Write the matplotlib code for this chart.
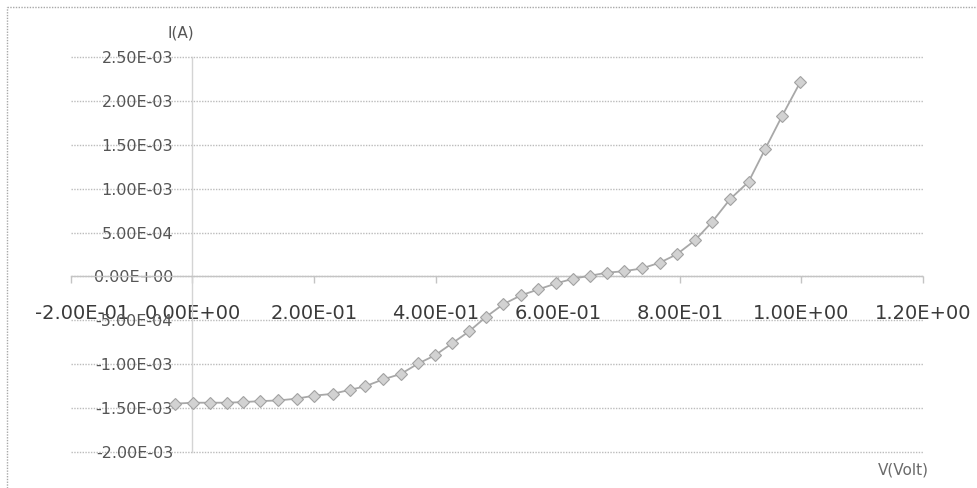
import matplotlib
matplotlib.use("Agg")
import matplotlib.pyplot as plt
from matplotlib.lines import Line2D
from matplotlib.transforms import ScaledTranslation

# Measured I-V characteristic
voltage = [-0.029, 0.001, 0.029, 0.056, 0.083, 0.111, 0.141, 0.171, 0.200,
           0.230, 0.258, 0.283, 0.313, 0.342, 0.371, 0.398, 0.426, 0.454,
           0.482, 0.510, 0.539, 0.568, 0.597, 0.625, 0.653, 0.680, 0.709,
           0.738, 0.767, 0.795, 0.825, 0.853, 0.883, 0.913, 0.940, 0.968,
           0.998]
current = [-1.452e-3, -1.441e-3, -1.441e-3, -1.441e-3, -1.434e-3, -1.423e-3,
           -1.415e-3, -1.395e-3, -1.360e-3, -1.340e-3, -1.295e-3, -1.255e-3,
           -1.175e-3, -1.113e-3, -0.993e-3, -0.901e-3, -0.765e-3, -0.628e-3,
           -0.462e-3, -0.319e-3, -0.217e-3, -0.148e-3, -0.080e-3, -0.026e-3,
           0.008e-3, 0.042e-3, 0.060e-3, 0.091e-3, 0.156e-3, 0.251e-3,
           0.411e-3, 0.620e-3, 0.884e-3, 1.078e-3, 1.449e-3, 1.829e-3,
           2.217e-3]

x_ticks = [-0.2, 0.0, 0.2, 0.4, 0.6, 0.8, 1.0, 1.2]
x_tick_labels = ["-2.00E-01", "0.00E+00", "2.00E-01", "4.00E-01",
                 "6.00E-01", "8.00E-01", "1.00E+00", "1.20E+00"]
y_ticks = [-2.0e-3, -1.5e-3, -1.0e-3, -0.5e-3, 0.0, 0.5e-3, 1.0e-3,
           1.5e-3, 2.0e-3, 2.5e-3]
y_tick_labels = ["-2.00E-03", "-1.50E-03", "-1.00E-03", "-5.00E-04",
                 "0.00E+00", "5.00E-04", "1.00E-03", "1.50E-03",
                 "2.00E-03", "2.50E-03"]

plt.rcParams["font.family"] = ["DejaVu Sans"]

W, H = 978, 488
fig = plt.figure(figsize=(W / 100, H / 100), dpi=100)
fig.patch.set_facecolor("white")
ax = fig.add_axes([70.7 / W, 1 - 451.7 / H, (923.3 - 70.7) / W, (451.7 - 57.3) / H])
ax.set_facecolor("none")

ax.set_xlim(-0.2, 1.2)
ax.set_ylim(-2.0e-3, 2.5e-3)

ax.plot(voltage, current, color="#a8a8a8", lw=1.3, marker="D", ms=6.0,
        mfc="#d2d2d2", mec="#a2a2a2", mew=0.8, zorder=3, clip_on=False)

for side in ["top", "right"]:
    ax.spines[side].set_visible(False)
ax.spines["left"].set_position(("data", 0))
ax.spines["bottom"].set_position(("data", 0))
ax.spines["left"].set_color("#d4d4d4")
ax.spines["bottom"].set_color("#c4c4c4")
for side in ["left", "bottom"]:
    ax.spines[side].set_linestyle((0, (1, 1)))
    ax.spines[side].set_linewidth(1.0)

ax.yaxis.grid(True, linestyle=(0, (1, 1)), color="#bcbcbc", lw=1.0)
ax.set_axisbelow(True)

ax.set_xticks(x_ticks)
ax.set_xticklabels(x_tick_labels)
ax.set_yticks(y_ticks)
ax.set_yticklabels(y_tick_labels)

for gl in ax.get_ygridlines():
    gl.set_clip_on(False)

ax.tick_params(axis="x", direction="out", length=5, width=1, color="#c4c4c4",
               pad=15, labelsize=14, labelcolor="#3a3a3a")
ax.tick_params(axis="y", length=0, pad=14, labelsize=11.5, labelcolor="#555555")

# keep the leftmost voltage label inside the frame
first = ax.get_xticklabels()[0]
first.set_transform(first.get_transform() + ScaledTranslation(0.11, 0, fig.dpi_scale_trans))

fig.text(181 / W, 1 - 33 / H, "I(A)", ha="center", va="center",
         fontsize=11, color="#555555")
fig.text(903 / W, 1 - 470 / H, "V(Volt)", ha="center", va="center",
         fontsize=11, color="#6a6a6a")

# dotted chart-area frame
fig.add_artist(Line2D([7 / W, 1.0], [1 - 7 / H, 1 - 7 / H], transform=fig.transFigure,
                      ls=(0, (1, 1)), color="#a8a8a8", lw=1.0))
fig.add_artist(Line2D([7 / W, 7 / W], [0.0, 1 - 7 / H], transform=fig.transFigure,
                      ls=(0, (1, 1)), color="#a8a8a8", lw=1.0))

fig.savefig("out.png", dpi=100)
